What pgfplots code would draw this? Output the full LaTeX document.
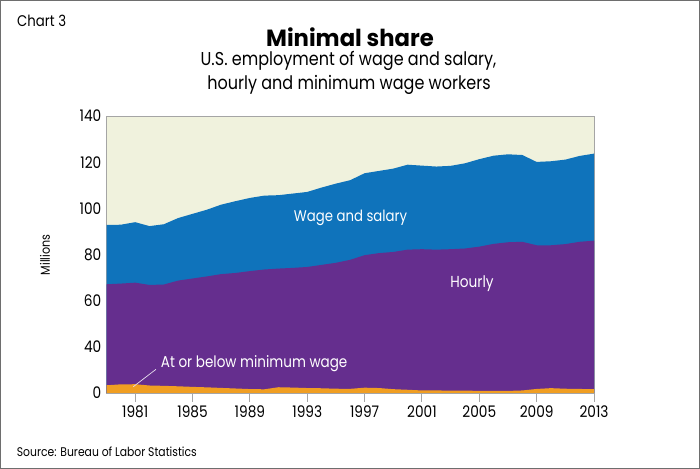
\documentclass[border=0pt]{standalone}
\usepackage{pgfplots}
\pgfplotsset{compat=1.18}
\usepackage{pgfplotstable}
\usepackage{fontspec}
\setmainfont{Poppins}[FakeStretch=0.86]
\newfontfamily\titlefont{Poppins}[FakeStretch=0.97]
\definecolor{cream}{RGB}{240,242,221}
\definecolor{wageblue}{RGB}{15,115,187}
\definecolor{hourpurple}{RGB}{101,46,142}
\definecolor{minorange}{RGB}{240,158,34}
\definecolor{axisgray}{RGB}{165,165,165}
\definecolor{framegray}{RGB}{110,110,110}

\pgfplotstableread{
year wage hourly minw
1979 92.8 67.1 6.7
1980 92.9 67.4 7.5
1981 94.0 67.8 7.6
1982 92.3 66.8 6.5
1983 93.1 67.0 6.2
1984 95.8 68.7 5.8
1985 97.6 69.6 5.3
1986 99.4 70.5 4.9
1987 101.6 71.5 4.4
1988 103.1 72.0 3.9
1989 104.5 72.8 3.4
1990 105.5 73.5 3.2
1991 105.7 73.9 5.0
1992 106.4 74.2 4.7
1993 107.1 74.6 4.3
1994 109.0 75.5 4.1
1995 110.7 76.4 3.7
1996 112.2 77.7 3.6
1997 115.2 79.7 4.6
1998 116.2 80.6 4.3
1999 117.2 81.1 3.3
2000 118.9 82.1 2.8
2001 118.5 82.3 2.2
2002 118.1 82.1 2.2
2003 118.4 82.3 2.1
2004 119.5 82.6 2.0
2005 121.3 83.4 1.9
2006 122.8 84.6 1.8
2007 123.4 85.3 1.8
2008 123.1 85.5 2.2
2009 120.1 84.0 3.5
2010 120.4 84.0 4.2
2011 121.1 84.5 3.7
2012 122.7 85.5 3.5
2013 123.7 86.0 3.3
}\datatab

\begin{document}
\begin{tikzpicture}
\path[use as bounding box] (0bp,0bp) rectangle (700bp,469bp);
\fill[white] (0bp,0bp) rectangle (700bp,469bp);
\begin{axis}[
  at={(106.5bp,76bp)}, anchor=south west,
  scale only axis, width=487.5bp, height=277bp,
  xmin=1979, xmax=2013, ymin=0, ymax=140,
  y coord trafo/.code={\pgfmathparse{(#1<40)*(#1/2)+(#1>=40)*(#1-20)}},
  y coord inv trafo/.code={\pgfmathparse{(#1<20)*(#1*2)+(#1>=20)*(#1+20)}},
  ytick={0,40,60,80,100,120,140},
  yticklabels={0,40,60,80,100,120,140},
  xtick={1981,1985,1989,1993,1997,2001,2005,2009,2013},
  xticklabels={1981,1985,1989,1993,1997,2001,2005,2009,2013},
  xtick pos=lower, ytick pos=left,
  tick align=outside, major tick length=9bp,
  axis background/.style={fill=cream},
  axis line style={draw=axisgray, line width=0.9bp},
  xtick style={draw=axisgray, line width=1bp},
  ytick style={draw=none},
  ticklabel style={font=\fontsize{16}{16}\selectfont, text=black},
  yticklabel style={xshift=7.3bp},
  /pgf/number format/assume math mode=true,
  clip=true,
]
\addplot[fill=wageblue, draw=none] table[x=year,y=wage]{\datatab} \closedcycle;
\addplot[fill=hourpurple, draw=none] table[x=year,y=hourly]{\datatab} \closedcycle;
\addplot[fill=minorange, draw=none] table[x=year,y=minw]{\datatab} \closedcycle;
\end{axis}
\draw[framegray, line width=1.4bp] (0.7bp,0.7bp) rectangle (699.3bp,468.3bp);
\node[anchor=base west, inner sep=0pt, font=\fontsize{15.5}{15.5}\selectfont] at (17bp,442.3bp) {Chart 3};
\node[anchor=base, inner sep=0pt, font=\fontsize{23.5}{23.5}\titlefont\bfseries] at (350bp,422.3bp) {Minimal share};
\node[anchor=base, inner sep=0pt, font=\fontsize{18.7}{18.7}\selectfont] at (348.5bp,403bp) {U.S. employment of wage and salary,};
\node[anchor=base, inner sep=0pt, font=\fontsize{18.7}{18.7}\selectfont] at (349bp,379.7bp) {hourly and minimum wage workers};
\node[rotate=90, anchor=center, inner sep=0pt, font=\fontsize{13}{13}\selectfont] at (45bp,214bp) {Millions};
\node[anchor=base west, inner sep=0pt, font=\fontsize{12.6}{12.6}\selectfont] at (16.7bp,13bp) {Source: Bureau of Labor Statistics};
\node[anchor=base, inner sep=0pt, text=white, font=\fontsize{15.5}{15.5}\selectfont] at (350.5bp,247bp) {Wage and salary};
\node[anchor=base, inner sep=0pt, text=white, font=\fontsize{16}{16}\selectfont] at (472bp,181.3bp) {Hourly};
\node[anchor=base west, inner sep=0pt, text=white, font=\fontsize{15.8}{15.8}\selectfont] at (160.7bp,101.7bp) {At or below minimum wage};
\draw[white!85!hourpurple, line width=0.7bp] (133.3bp,82.3bp) -- (156bp,99.7bp);
\end{tikzpicture}
\end{document}
